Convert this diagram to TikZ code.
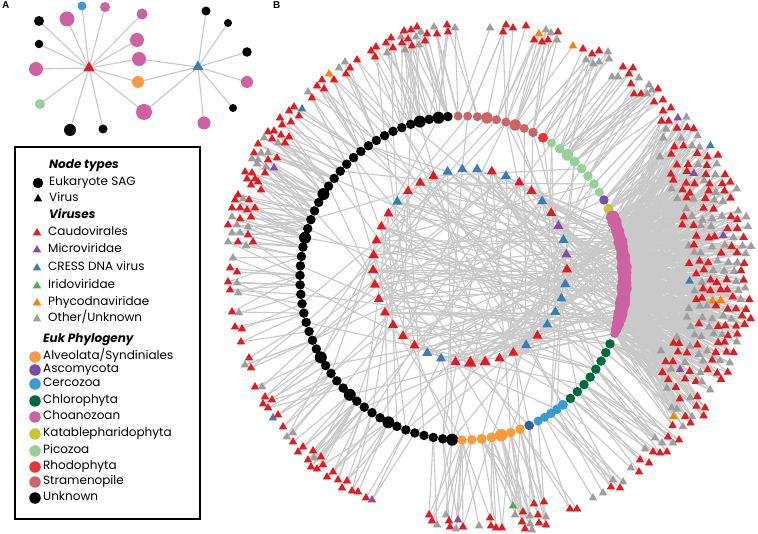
\documentclass[tikz,border=0pt]{standalone}
\usepackage{fontspec}
\setmainfont{Poppins}
\newfontfamily\labfont{Liberation Sans}
\usetikzlibrary{shapes.geometric}
\pgfdeclarelayer{bglayer}
\pgfdeclarelayer{edgelayer}
\pgfsetlayers{bglayer,edgelayer,main}

\definecolor{vr}{HTML}{E8191E}
\definecolor{vp}{HTML}{8E4AA6}
\definecolor{vb}{HTML}{377EB8}
\definecolor{vn}{HTML}{4DAF4A}
\definecolor{vo}{HTML}{FF7F00}
\definecolor{vg}{HTML}{9E9E9E}
\definecolor{eAlv}{HTML}{FD9A3A}
\definecolor{eAsc}{HTML}{764FA5}
\definecolor{eCer}{HTML}{3A9AD6}
\definecolor{eChl}{HTML}{006B3C}
\definecolor{eCho}{HTML}{CC63A0}
\definecolor{eKat}{HTML}{C8C832}
\definecolor{ePic}{HTML}{98D09A}
\definecolor{eRho}{HTML}{EE3338}
\definecolor{eStr}{HTML}{CC6666}
\definecolor{eDkb}{HTML}{2F5F98}
\definecolor{eUnk}{HTML}{000000}
\definecolor{edgec}{HTML}{C9C9C9}

\tikzset{
  lnk/.style={draw=edgec, line width=1.1pt},
  tri/.style={regular polygon, regular polygon sides=3, fill=#1, draw=none, inner sep=0pt, minimum size=9.8pt},
  dot/.style={circle, fill=#1, draw=none, inner sep=0pt},
  legtxt/.style={anchor=west, inner sep=0pt, text height=8.6pt, text depth=2.7pt, font=\fontsize{12}{13}\selectfont},
  leghead/.style={anchor=west, inner sep=0pt, text height=8.6pt, text depth=2.7pt, font=\fontsize{12}{13}\selectfont\bfseries\itshape},
  panlab/.style={anchor=north west, inner sep=0pt, font=\labfont\bfseries\fontsize{10}{11}\selectfont},
}

% collected connectors, drawn at the end on the edge layer
\gdef\edgelist{}
\newcommand\addedge[2]{\xdef\edgelist{\unexpanded\expandafter{\edgelist}\noexpand\draw[lnk] (#1.center) -- (#2.center);}}

% name of the ring node nearest to an angle (degrees, around the SAG ring)
\newcommand\findring[1]{%
  \pgfmathsetmacro\rgAng{mod(#1+740,360)-20}%
  \ifdim\rgAng pt<23.6pt
    \pgfmathtruncatemacro\rgIdx{max(1,min(24,round((\rgAng+20)/42*23)+1))}\edef\rname{pk\rgIdx}%
  \else\ifdim\rgAng pt<27pt \def\rname{ka1}%
  \else\ifdim\rgAng pt<30.4pt \def\rname{as1}%
  \else\ifdim\rgAng pt<58.2pt
    \pgfmathtruncatemacro\rgIdx{max(1,min(8,round((\rgAng-32)/3.486)+1))}\edef\rname{pz\rgIdx}%
  \else\ifdim\rgAng pt<62pt \def\rname{rh1}%
  \else\ifdim\rgAng pt<93.2pt
    \pgfmathtruncatemacro\rgIdx{max(1,min(9,round((\rgAng-64)/3.425)+1))}\edef\rname{st\rgIdx}%
  \else\ifdim\rgAng pt<268.2pt
    \pgfmathtruncatemacro\rgIdx{max(1,min(52,round((\rgAng-95)/3.363)+1))}\edef\rname{uk\rgIdx}%
  \else\ifdim\rgAng pt<292.7pt
    \pgfmathtruncatemacro\rgIdx{max(1,min(7,round((\rgAng-270)/3.5)+1))}\edef\rname{al\rgIdx}%
  \else\ifdim\rgAng pt<296.2pt \def\rname{db1}%
  \else\ifdim\rgAng pt<310.2pt
    \pgfmathtruncatemacro\rgIdx{max(1,min(5,round((\rgAng-298)/2.625)+1))}\edef\rname{cz\rgIdx}%
  \else\ifdim\rgAng pt<338pt
    \pgfmathtruncatemacro\rgIdx{max(1,min(8,round((\rgAng-312)/3.4286)+1))}\edef\rname{ch\rgIdx}%
  \else \def\rname{pk1}%
  \fi\fi\fi\fi\fi\fi\fi\fi\fi\fi\fi
}

\begin{document}
\begin{tikzpicture}[x=1pt,y=1pt]
\pgfmathsetseed{4242}
\begin{pgfonlayer}{bglayer}
\fill[white] (0,0) rectangle (758,-534);
\end{pgfonlayer}
\useasboundingbox (0,0) rectangle (758,-534);

% ================= Panel A =================
\node[panlab] (labA) at (2,-1) {A};
\node[tri=vr, minimum size=13pt] (ared) at (89,-68) {};
\node[tri=vb, minimum size=13pt] (ablue) at (198,-67) {};
\foreach \x/\y/\col/\s [count=\i] in {39/21/eUnk/10, 67/19/eCho/15, 82/6/eCer/9, 105/7/eCho/10, 39/44/eUnk/8.5, 36/69/eCho/14, 40/104/ePic/10, 70/130/eUnk/12, 103/129/eUnk/9, 142/14/eCho/11, 137/40/eCho/14} {
  \node[dot=\col, minimum size=\s pt] (ar\i) at (\x,-\y) {};
  \addedge{ared}{ar\i}
}
\foreach \x/\y/\col/\s [count=\i] in {139/59/eCho/14, 138/82/eAlv/12, 144/112/eCho/16} {
  \node[dot=\col, minimum size=\s pt] (ash\i) at (\x,-\y) {};
  \addedge{ared}{ash\i}
  \addedge{ablue}{ash\i}
}
\foreach \x/\y/\col/\s [count=\i] in {206/11/eUnk/9, 228/23/eUnk/8, 247/52/eUnk/9.5, 247/82/eCho/12, 233/108/eUnk/8, 204/123/eCho/13} {
  \node[dot=\col, minimum size=\s pt] (ab\i) at (\x,-\y) {};
  \addedge{ablue}{ab\i}
}

% ================= Legend =================
\draw[line width=2.5pt] (15,-147) rectangle (200,-519);
\node[leghead] (h1) at (49,-166) {Node types};
\node[dot=black, minimum size=10.5pt] (lg1) at (38,-183) {};
\node[legtxt] (tx1) at (49,-183) {Eukaryote SAG};
\node[tri=black] (lg2) at (38,-199) {};
\node[legtxt] (tx2) at (49,-199) {Virus};
\node[leghead] (h2) at (49,-216) {Viruses};
\node[tri=vr] (lv1) at (37,-233) {};
\node[legtxt] (tv1) at (48,-233) {Caudovirales};
\node[tri=vp] (lv2) at (37,-250) {};
\node[legtxt] (tv2) at (48,-250) {Microviridae};
\node[tri=vb] (lv3) at (37,-268) {};
\node[legtxt] (tv3) at (48,-268) {CRESS DNA virus};
\node[tri=vn] (lv4) at (37,-286) {};
\node[legtxt] (tv4) at (48,-286) {Iridoviridae};
\node[tri=vo] (lv5) at (37,-303) {};
\node[legtxt] (tv5) at (48,-303) {Phycodnaviridae};
\node[tri=vg] (lv6) at (37,-319) {};
\node[legtxt] (tv6) at (48,-319) {Other/Unknown};
\node[leghead] (h3) at (43,-340) {Euk Phylogeny};
\node[dot=eAlv, minimum size=11.5pt] (le1) at (35,-357) {};
\node[legtxt] (te1) at (43,-357) {Alveolata/Syndiniales};
\node[dot=eAsc, minimum size=11.5pt] (le2) at (35,-370) {};
\node[legtxt] (te2) at (43,-370) {Ascomycota};
\node[dot=eCer, minimum size=11.5pt] (le3) at (35,-384) {};
\node[legtxt] (te3) at (43,-384) {Cercozoa};
\node[dot=eChl, minimum size=11.5pt] (le4) at (35,-401) {};
\node[legtxt] (te4) at (43,-401) {Chlorophyta};
\node[dot=eCho, minimum size=11.5pt] (le5) at (35,-417) {};
\node[legtxt] (te5) at (43,-417) {Choanozoan};
\node[dot=eKat, minimum size=11.5pt] (le6) at (35,-434) {};
\node[legtxt] (te6) at (43,-434) {Katablepharidophyta};
\node[dot=ePic, minimum size=11.5pt] (le7) at (35,-451) {};
\node[legtxt] (te7) at (43,-451) {Picozoa};
\node[dot=eRho, minimum size=11.5pt] (le8) at (35,-467) {};
\node[legtxt] (te8) at (43,-467) {Rhodophyta};
\node[dot=eStr, minimum size=11.5pt] (le9) at (35,-482) {};
\node[legtxt] (te9) at (43,-482) {Stramenopile};
\node[dot=eUnk, minimum size=11.5pt] (le10) at (35,-498) {};
\node[legtxt] (te10) at (43,-498) {Unknown};

% ================= Panel B =================
\node[panlab] (labB) at (273,-1) {B};

% --- SAG ring (center 462,278 ; r 162) ---
\foreach \s [count=\i] in {9.5,12,9.5,12,9.5,9.5,9.5,9.5,9.5,9.5,9.5,9.5,9.5,9.5,9.5,9.5,12,9.5,9.5,9.5,9.5,12,9.5,9.5,9.5,9.5,9.5,9.5,9.5,9.5,9.5,9.5,9.5,9.5,12,9.5,9.5,9.5,9.5,12,9.5,9.5,9.5,9.5,12,9.5,9.5,9.5,9.5,9.5,9.5,12} {
  \pgfmathsetmacro\a{95+(\i-1)*3.363}
  \node[dot=eUnk, minimum size=\s pt] (uk\i) at ([shift={(462,-278)}]\a:162) {};
}
\foreach \s [count=\i] in {9.5,9,11.5,9,9,11.5,9,9,9} {
  \pgfmathsetmacro\a{64+(\i-1)*3.425}
  \node[dot=eStr, minimum size=\s pt] (st\i) at ([shift={(462,-278)}]\a:162) {};
}
\node[dot=eRho, minimum size=10pt] (rh1) at ([shift={(462,-278)}]60:162) {};
\foreach \s [count=\i] in {9,9.5,9.5,9.5,10,11.5,9.5,9} {
  \pgfmathsetmacro\a{32+(\i-1)*3.486}
  \node[dot=ePic, minimum size=\s pt] (pz\i) at ([shift={(462,-278)}]\a:162) {};
}
\node[dot=eAsc, minimum size=9.5pt] (as1) at ([shift={(462,-278)}]28.8:162) {};
\node[dot=eKat, minimum size=10pt] (ka1) at ([shift={(462,-278)}]25.3:162) {};
\foreach \s [count=\i] in {9,11,12,13,14,13,15,14,13,15,14,13,14,15,13,14,12,13,14,12,13,12,14,13.5} {
  \pgfmathsetmacro\a{-20+(\i-1)*1.826}
  \node[dot=eCho, minimum size=\s pt] (pk\i) at ([shift={(462,-278)}]\a:162.5) {};
}
\foreach \s [count=\i] in {9.5,9.5,9.5,9.5,9.5,9.5,9.5,9.5} {
  \pgfmathsetmacro\a{312+(\i-1)*3.4286}
  \node[dot=eChl, minimum size=\s pt] (ch\i) at ([shift={(462,-278)}]\a:162) {};
}
\foreach \s [count=\i] in {9,9,9.5,9.5,10} {
  \pgfmathsetmacro\a{298+(\i-1)*2.625}
  \node[dot=eCer, minimum size=\s pt] (cz\i) at ([shift={(462,-278)}]\a:162) {};
}
\node[dot=eDkb, minimum size=9.5pt] (db1) at ([shift={(462,-278)}]294.5:162) {};
\foreach \s [count=\i] in {9.5,9.5,10,10,12.5,9.5,9.5} {
  \pgfmathsetmacro\a{270+(\i-1)*3.5}
  \node[dot=eAlv, minimum size=\s pt] (al\i) at ([shift={(462,-278)}]\a:162) {};
}

% --- inner ring of virus triangles (center 470,266 ; r 97) ---
\foreach \col/\s [count=\i from 0] in {r/11.5,p/11.5,b/11.5,p/11.5,r/11.5,b/11.5,r/11.5,r/11.5,b/11.5,r/11.5,b/11.5,b/11.5,b/11.5,r/11.5,r/11.5,r/11.5,b/11.5,r/11.5,r/11.5,r/11.5,r/11.5,r/11.5,r/11.5,r/11.5,r/11.5,r/11.5,r/11.5,r/11.5,b/11.5,b/11.5,r/11.5,r/14.5,r/12.5,r/11.5,r/11.5,b/11.5,r/11.5,b/11.5,b/11.5,b/11.5,b/11.5} {
  \pgfmathsetmacro\a{-2+\i*8.78}
  \node[tri=v\col, minimum size=\s pt] (in\i) at ([shift={(470,-266)}]\a:97) {};
  \foreach \e in {1,...,6} {
    \pgfmathsetmacro\myq{rnd}
    \ifdim\myq pt<0.35pt \pgfmathsetmacro\tg{rand*21}\else\pgfmathsetmacro\tg{rnd*360}\fi
    \findring{\tg}
    \addedge{in\i}{\rname}
  }
}

% --- outer virus triangles (read positions) ---
\foreach \x/\y/\col [count=\i] in {
357/60/r,350/68/r,345/62/g,339/68/g,329/74/o,346/74/r,334/80/r,322/80/r,317/86/r,324/89/r,308/92/g,312/98/r,
294/107/r,302/109/b,289/111/r,299/116/r,280/118/r,291/122/r,282/125/r,268/132/r,274/131/r,281/135/r,264/138/g,272/139/r,289/137/r,278/143/g,285/143/r,258/144/r,254/153/r,261/153/g,268/153/g,252/159/g,258/160/g,268/160/r,277/158/r,257/164/g,266/167/g,274/168/p,265/173/r,245/172/r,252/173/r,247/179/r,255/179/r,251/185/r,258/182/r,261/190/r,238/195/r,235/200/r,243/199/g,249/200/r,255/208/r,240/208/r,247/210/r,232/208/r,251/217/r,232/217/g,240/219/r,228/225/r,237/225/g,248/227/g,232/233/g,240/233/g,248/235/r,228/242/g,238/242/r,246/246/g,253/242/r,
233/258/g,230/268/r,237/272/r,228/282/r,237/283/g,230/290/r,238/293/g,232/312/r,239/313/g,235/327/r,242/329/r,241/342/r,249/358/r,245/365/g,251/368/r,
255/387/r,262/387/g,265/397/r,272/400/r,263/404/r,268/408/r,273/418/b,278/415/r,283/427/r,287/437/g,293/433/g,293/442/r,298/452/r,303/447/r,308/460/r,313/451/r,314/458/g,321/457/r,311/467/r,317/469/r,323/465/r,327/477/r,333/472/r,338/480/r,347/481/r,342/488/r,352/491/r,358/492/r,366/498/r,372/500/p,
429/515/r,432/521/r,437/525/g,446/515/g,449/521/r,450/527/r,458/520/p,456/529/g,463/527/r,479/526/g,490/518/r,491/526/r,496/528/r,502/528/r,513/506/n,515/515/g,523/512/r,522/522/r,530/516/g,534/504/r,538/515/r,544/502/r,546/517/g,539/523/r,546/525/r,530/524/g,525/529/r,532/530/g,570/509/r,577/509/r,
593/498/g,603/493/g,611/487/r,613/480/g,620/488/r,623/482/g,631/468/g,639/472/r,640/460/r,649/463/r,645/449/g,653/452/r,660/453/r,667/452/r,655/438/g,662/443/g,668/437/r,673/443/g,679/440/r,
371/51/r,376/47/r,375/57/r,386/43/r,391/38/r,393/48/r,387/53/g,401/37/g,404/31/r,402/43/r,408/39/r,412/46/r,405/50/g,411/30/r,416/37/g,417/27/r,421/32/g,419/45/g,425/41/r,427/34/r,434/27/g,437/34/r,447/25/r,448/32/r,455/28/g,
490/28/g,506/25/r,503/32/r,513/28/r,526/26/r,539/34/o,546/30/g,551/33/g,558/32/r,534/40/r,542/42/r,548/40/r,557/40/g,573/46/o,583/49/r,592/54/r,599/51/r,608/52/g,586/60/g,593/64/g,599/62/g,609/59/g,623/67/r,633/68/r,612/77/g,618/77/g,629/74/r,639/78/g,631/84/r,649/85/g,658/89/r,634/94/r,641/94/r,647/94/g,652/90/g,654/102/r,663/100/r,663/111/r,671/108/r} {
  \node[tri=v\col] (ot\i) at (\x,-\y) {};
  \pgfmathsetmacro\oAng{atan2(278-\y,\x-462)}
  \pgfmathsetmacro\tg{\oAng+rand*7}
  \findring{\tg}
  \addedge{ot\i}{\rname}
  \pgfmathsetmacro\myq{rnd}
  \ifdim\myq pt<0.6pt
    \pgfmathsetmacro\tg{\oAng+rand*10}
    \findring{\tg}
    \addedge{ot\i}{\rname}
  \fi
}

% --- dense right-hand cluster linked to the Choanozoan arc ---
\foreach \yy/\xl/\xr in {119/661/689,128/667/698,137/662/706,146/664/713,155/662/718,164/670/723,173/669/729,182/675/734,191/672/739,200/677/745,209/677/747,218/684/749,227/683/750,236/689/750,245/687/750,254/693/750,263/691/750,272/697/750,281/691/750,290/693/750,299/686/750,308/690/750,317/686/750,326/689/748,335/676/746,344/672/744,353/662/741,362/666/736,371/663/730,380/668/724,389/666/719,398/672/713,407/670/706,416/675/702,425/673/697} {
  \pgfmathtruncatemacro\nn{(\xr-\xl)/9}
  \foreach \k in {0,...,\nn} {
    \pgfmathsetmacro\myq{rnd}
    \ifdim\myq pt<0.88pt
      \pgfmathsetmacro\px{\xl+\k*9+rand*2.2}
      \pgfmathsetmacro\py{\yy+rand*2.2}
      \pgfmathsetmacro\myq{rnd}
      \ifdim\myq pt<0.56pt\def\tcol{vr}\else\ifdim\myq pt<0.95pt\def\tcol{vg}\else\ifdim\myq pt<0.97pt\def\tcol{vp}\else\ifdim\myq pt<0.988pt\def\tcol{vb}\else\def\tcol{vo}\fi\fi\fi\fi
      \node[tri=\tcol] (rc\yy-\k) at (\px,-\py) {};
      \pgfmathsetmacro\oAng{atan2(278-\py,\px-462)}
      \foreach \e in {1,2,3} {
        \pgfmathsetmacro\tg{\oAng*0.5+rand*13}
        \findring{\tg}
        \addedge{rc\yy-\k}{\rname}
      }
    \fi
  }
}

% --- all connectors, behind the nodes ---
\begin{pgfonlayer}{edgelayer}
\edgelist
\end{pgfonlayer}
\end{tikzpicture}
\end{document}
